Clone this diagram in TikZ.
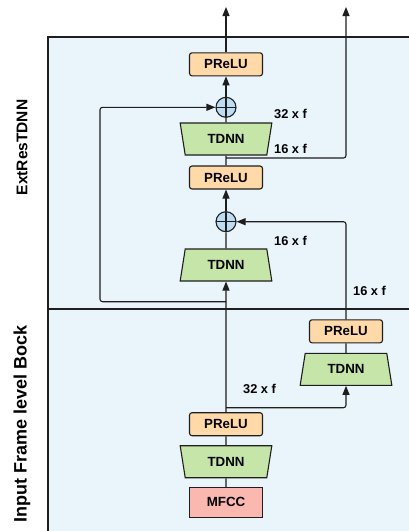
\documentclass[tikz,border=0pt]{standalone}
\usepackage{fontspec}
\setmainfont{Liberation Sans}
\usetikzlibrary{shapes.geometric,arrows.meta}
\definecolor{bgblue}{HTML}{EAF4FB}
\definecolor{preluc}{HTML}{FFD9A8}
\definecolor{tdnnc}{HTML}{C6E5A8}
\definecolor{plusc}{HTML}{BCDDF3}
\definecolor{mfccc}{HTML}{FBB8B0}
\definecolor{linec}{HTML}{1E1E1E}
\tikzset{
  prelubox/.style={draw=linec, line width=1.1pt, fill=preluc, rounded corners=2.5pt, minimum width=73pt, minimum height=23pt, inner sep=0pt, font=\fontsize{13.3}{13.3}\selectfont\bfseries},
  mfccbox/.style={draw=linec, line width=1.1pt, fill=mfccc, minimum width=73pt, minimum height=30pt, inner sep=0pt, font=\fontsize{13.3}{13.3}\selectfont\bfseries},
  tdnnup/.style={draw=linec, line width=1.1pt, fill=tdnnc, trapezium, trapezium angle=76, trapezium stretches=true, minimum width=92pt, minimum height=32pt, inner sep=0pt, font=\fontsize{13.3}{13.3}\selectfont\bfseries},
  tdnndown/.style={tdnnup, shape border rotate=180},
  plusnode/.style={draw=linec, line width=1.1pt, fill=plusc, circle, minimum size=20pt, inner sep=0pt,
    path picture={\draw[linec, line width=1.1pt] (path picture bounding box.north) -- (path picture bounding box.south) (path picture bounding box.west) -- (path picture bounding box.east);}},
  conn/.style={draw=linec, line width=1.1pt, rounded corners=2.5pt},
  arr/.style={conn, -{Triangle[length=9pt,width=7pt]}},
  lbl/.style={anchor=west, inner sep=0pt, font=\fontsize{12.8}{12.8}\selectfont\bfseries},
  sidelbl/.style={rotate=90, inner sep=0pt, font=\fontsize{15.5}{15.5}\selectfont\bfseries}
}
\begin{document}
\begin{tikzpicture}[x=1pt,y=-1pt]
\useasboundingbox (0,0) rectangle (409,531);
\begin{scope}
\clip (0,0) rectangle (409,531);
\draw[linec, line width=1.2pt, fill=bgblue] (48,37) rectangle (420,545);
\draw[linec, line width=1.2pt] (48,309) -- (420,309);
\end{scope}
% side labels
\node[sidelbl] (lab1) at (22,147.5) {ExtResTDNN};
\node[sidelbl, font=\fontsize{18}{18}\selectfont\bfseries] (lab2) at (22,424) {Input Frame level Bock};
% nodes
\node[prelubox] (prelu1) at (226,64.3) {PReLU};
\node[plusnode] (plus1) at (226,107.3) {};
\node[tdnndown] (tdnn1) at (226,139) {TDNN};
\node[prelubox] (prelu2) at (226,177.5) {PReLU};
\node[plusnode] (plus2) at (226,221.7) {};
\node[tdnnup] (tdnn2) at (226,265) {TDNN};
\node[prelubox] (prelu3) at (346,331.3) {PReLU};
\node[tdnnup] (tdnn3) at (346,369.3) {TDNN};
\node[prelubox] (prelu4) at (226,424.2) {PReLU};
\node[tdnndown] (tdnn4) at (226,461.7) {TDNN};
\node[mfccbox] (mfcc) at (226,502.3) {MFCC};
% coordinates
\coordinate (out1) at (226,7);
\coordinate (out2) at (346,7);
\coordinate (br1) at (226,158);
\coordinate (br2) at (226,407.7);
\coordinate (sk) at (226,301.7);
\coordinate (skc) at (100,301.7);
% connectors
\draw[conn] (mfcc.north) -- (tdnn4.south);
\draw[conn] (tdnn4.north) -- (prelu4.south);
\draw[arr] (prelu4.north) -- (tdnn2.south);
\draw[arr] (br2) -| (tdnn3.south);
\draw[conn] (tdnn3.north) -- (prelu3.south);
\draw[arr] (prelu3.north) |- (plus2.east);
\draw[conn] (tdnn2.north) -- (plus2.south);
\draw[arr] (plus2.north) -- (prelu2.south);
\draw[conn] (prelu2.north) -- (tdnn1.south);
\draw[arr] (br1) -| (out2);
\draw[conn] (tdnn1.north) -- (plus1.south);
\draw[arr] (plus1.north) -- (prelu1.south);
\draw[arr] (prelu1.north) -- (out1);
\draw[arr] (sk) -- (skc) |- (plus1.west);
% labels
\node[lbl] (l1) at (274,114) {32 x f};
\node[lbl] (l2) at (274,149) {16 x f};
\node[lbl] (l3) at (274,241) {16 x f};
\node[lbl] (l4) at (353,291) {16 x f};
\node[lbl] (l5) at (243,389) {32 x f};
\end{tikzpicture}
\end{document}
